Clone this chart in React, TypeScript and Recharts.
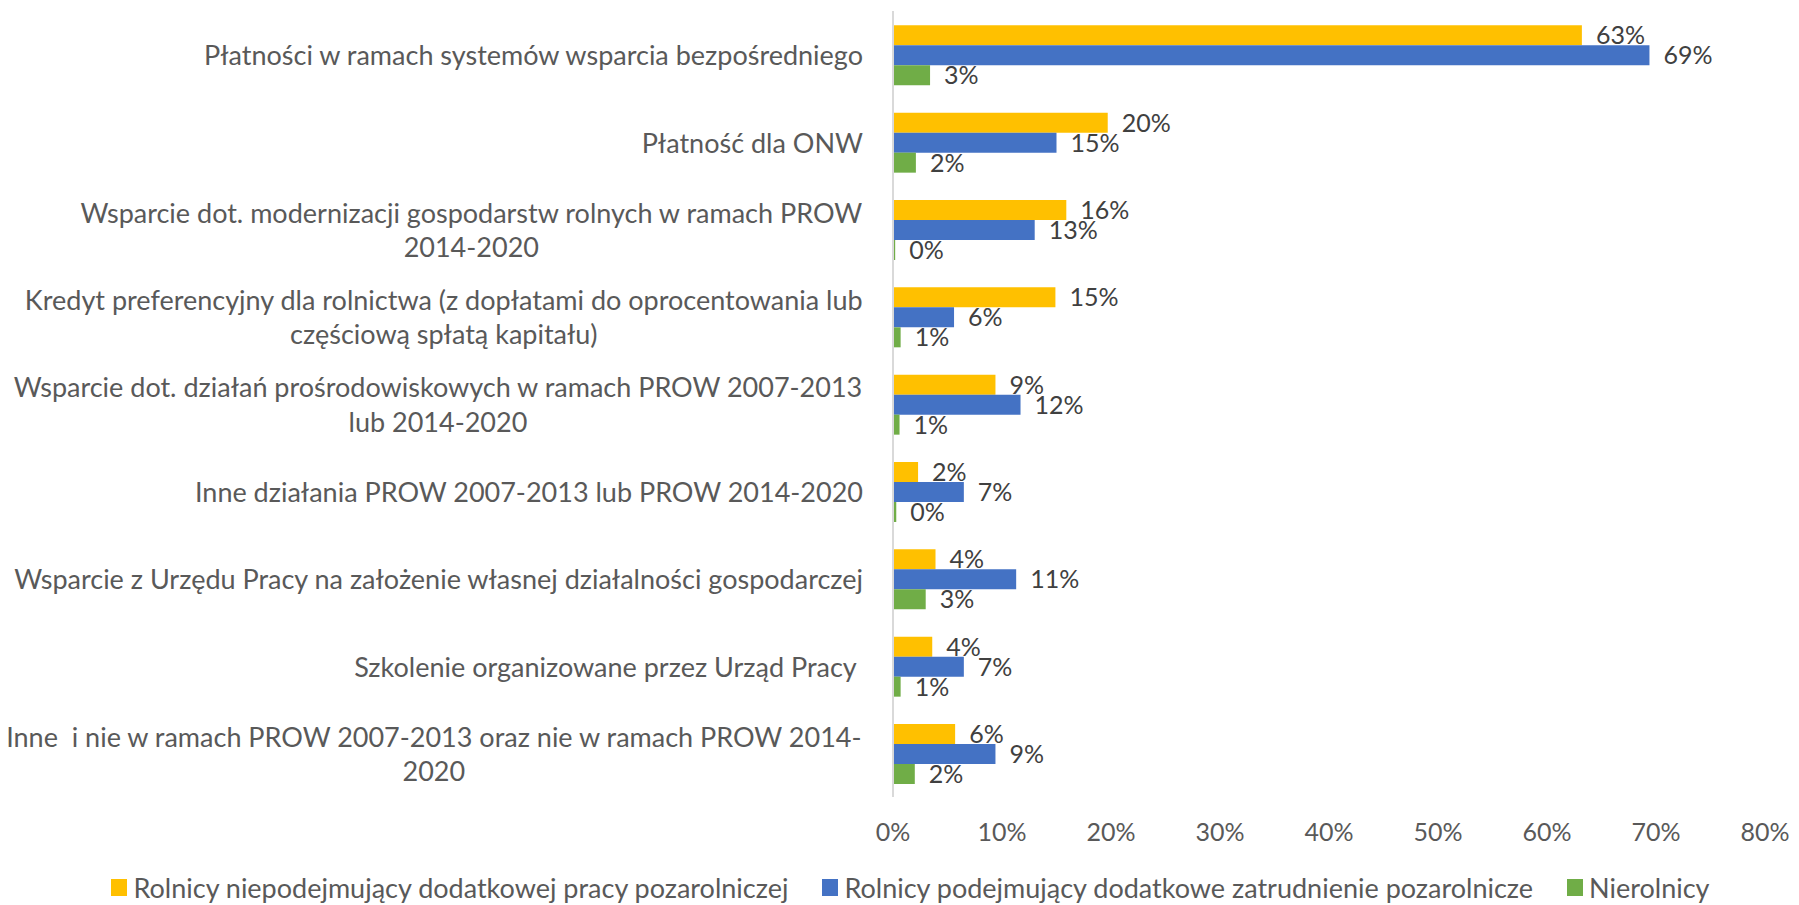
import React from 'react';
import { BarChart, Bar, XAxis, YAxis, Legend, LabelList } from 'recharts';

const categories = [
  'Płatności w ramach systemów wsparcia bezpośredniego',
  'Płatność dla ONW',
  'Wsparcie dot. modernizacji gospodarstw rolnych w ramach PROW\n2014-2020',
  'Kredyt preferencyjny dla rolnictwa (z dopłatami do oprocentowania lub\nczęściową spłatą kapitału)',
  'Wsparcie dot. działań prośrodowiskowych w ramach PROW 2007-2013\nlub 2014-2020',
  'Inne działania PROW 2007-2013 lub PROW 2014-2020',
  'Wsparcie z Urzędu Pracy na założenie własnej działalności gospodarczej',
  'Szkolenie organizowane przez Urząd Pracy ',
  'Inne  i nie w ramach PROW 2007-2013 oraz nie w ramach PROW 2014-\n2020',
];

const seriesNames = [
  'Rolnicy niepodejmujący dodatkowej pracy pozarolniczej',
  'Rolnicy podejmujący dodatkowe zatrudnienie pozarolnicze',
  'Nierolnicy',
];

const rolnicyBezPracy = [63.2, 19.7, 15.9, 14.9, 9.4, 2.3, 3.9, 3.6, 5.7];
const rolnicyZPraca = [69.4, 15.0, 13.0, 5.6, 11.7, 6.5, 11.3, 6.5, 9.4];
const nierolnicy = [3.4, 2.1, 0.2, 0.7, 0.6, 0.3, 3.0, 0.7, 2.0];

const xTicks = [0, 10, 20, 30, 40, 50, 60, 70, 80];

const colors = ['#FFC000', '#4472C4', '#70AD47'];
const FONT = 'Lato, sans-serif';
const FS_TEXT = 27; // category names, legend
const FS_NUM = 25; // data labels, axis ticks

const data = categories.map((name, i) => ({
  name,
  a: rolnicyBezPracy[i],
  b: rolnicyZPraca[i],
  c: nierolnicy[i],
}));

let ctx: CanvasRenderingContext2D | null = null;
const measure = (t: string) => {
  if (!ctx) ctx = document.createElement('canvas').getContext('2d');
  if (!ctx) return t.length * FS_TEXT * 0.5;
  ctx.font = `${FS_TEXT}px Lato`;
  return ctx.measureText(t).width;
};

const CategoryTick = (props: any) => {
  const { x, y, payload } = props;
  const lines: string[] = String(payload.value).split('\n');
  const lh = 34.4;
  if (lines.length === 1) {
    return (
      <text x={x} y={y} textAnchor="end" dominantBaseline="central" fill="#595959" fontSize={FS_TEXT} style={{ whiteSpace: 'pre' }}>
        {lines[0]}
      </text>
    );
  }
  const w = Math.max(...lines.map(measure));
  const cx = x - w / 2;
  const y0 = y - ((lines.length - 1) * lh) / 2;
  return (
    <g>
      {lines.map((l, i) => (
        <text key={i} x={cx} y={y0 + i * lh} textAnchor="middle" dominantBaseline="central" fill="#595959" fontSize={FS_TEXT} style={{ whiteSpace: 'pre' }}>
          {l}
        </text>
      ))}
    </g>
  );
};

const LegendContent = () => (
  <div style={{ display: 'flex', justifyContent: 'center', alignItems: 'center', height: 36, fontSize: FS_TEXT, color: '#595959', fontFamily: FONT, paddingLeft: 56 }}>
    {seriesNames.map((n, i) => (
      <div key={n} style={{ display: 'flex', alignItems: 'center', marginRight: i < 2 ? 34 : 0 }}>
        <span style={{ display: 'inline-block', width: 16, height: 17, background: colors[i], marginRight: 6 }} />
        <span>{n}</span>
      </div>
    ))}
  </div>
);

const fmt = (v: any) => `${Math.round(Number(v))}%`;

export default function App() {
  return (
    <div style={{ position: 'absolute', left: 0, top: 0, fontFamily: FONT, background: '#fff' }}>
      <BarChart
        width={1799}
        height={905}
        data={data}
        layout="vertical"
        margin={{ top: 11, right: 34, left: 0, bottom: 0 }}
        barCategoryGap="16.4%"
        barGap={0}
      >
        <XAxis
          type="number"
          domain={[0, 80]}
          ticks={xTicks}
          tickFormatter={(v) => `${v}%`}
          axisLine={false}
          tickLine={false}
          tickSize={0}
          tickMargin={26}
          height={72}
          tick={{ fill: '#595959', fontSize: FS_NUM }}
          interval={0}
        />
        <YAxis
          type="category"
          dataKey="name"
          width={893}
          axisLine={{ stroke: '#d9d9d9', strokeWidth: 2 }}
          tickLine={false}
          tickSize={0}
          tickMargin={30}
          tick={<CategoryTick />}
          interval={0}
        />
        <Legend verticalAlign="bottom" content={<LegendContent />} />
        {['a', 'b', 'c'].map((k, i) => (
          <Bar key={k} dataKey={k} name={seriesNames[i]} fill={colors[i]} isAnimationActive={false}>
            <LabelList dataKey={k} position="right" offset={14} formatter={fmt} fill="#404040" fontSize={FS_NUM} />
          </Bar>
        ))}
      </BarChart>
    </div>
  );
}
